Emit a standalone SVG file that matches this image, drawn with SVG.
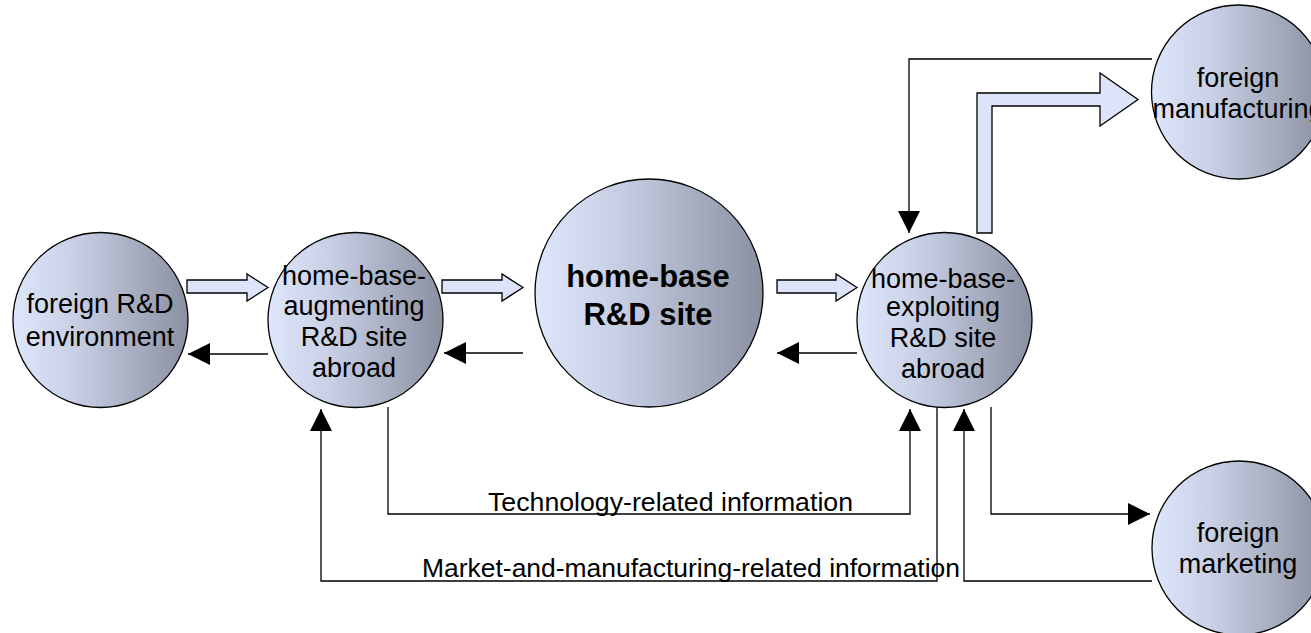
<svg xmlns="http://www.w3.org/2000/svg" width="1311" height="633" viewBox="0 0 1311 633">
<style>
.node{stroke:#000;stroke-width:1.3;fill:url(#g)}
.t{font-family:"Liberation Sans",Arial,Helvetica,sans-serif;font-size:27px;fill:#000;text-anchor:middle}
.b{font-weight:bold;font-size:31px}
.lbl{font-family:"Liberation Sans",Arial,Helvetica,sans-serif;font-size:25px;fill:#000}
.c{fill:none;stroke:#000;stroke-width:1.3;marker-end:url(#ah)}
.blk{fill:#dde4fa;stroke:#000;stroke-width:1.3;stroke-linejoin:miter}
</style>
<defs>
<linearGradient id="g" x1="0" y1="0" x2="1" y2="0">
<stop offset="0" stop-color="#dee6fc"/>
<stop offset="0.35" stop-color="#c9d0e6"/>
<stop offset="1" stop-color="#8a90a0"/>
</linearGradient>
<marker id="ah" markerUnits="userSpaceOnUse" markerWidth="22" markerHeight="22" viewBox="0 0 21 21" refX="21" refY="10.5" orient="auto">
<path d="M0,0 L21,10.5 L0,21 z" fill="#000"/>
</marker>
</defs>
<rect width="1311" height="633" fill="#fff"/>
<g id="n1">
<circle class="node" cx="100.5" cy="320" r="87.5"/>
<text class="t" x="100" y="313">foreign R&amp;D</text>
<text class="t" x="100" y="346">environment</text>
</g>
<g id="n2">
<circle class="node" cx="355.5" cy="320" r="87.5"/>
<text class="t" x="354" y="285">home-base-</text>
<text class="t" x="354" y="315">augmenting</text>
<text class="t" x="354" y="346">R&amp;D site</text>
<text class="t" x="354" y="377">abroad</text>
</g>
<g id="n3">
<circle class="node" cx="649" cy="293" r="114"/>
<text class="t b" x="648" y="287">home-base</text>
<text class="t b" x="648" y="325">R&amp;D site</text>
</g>
<g id="n4">
<circle class="node" cx="944.5" cy="320" r="87.5"/>
<text class="t" x="943" y="288">home-base-</text>
<text class="t" x="943" y="316">exploiting</text>
<text class="t" x="943" y="347">R&amp;D site</text>
<text class="t" x="943" y="378">abroad</text>
</g>
<g id="n5">
<circle class="node" cx="1238.5" cy="92" r="87"/>
<text class="t" x="1238" y="87">foreign</text>
<text class="t" x="1238" y="118">manufacturing</text>
</g>
<g id="n6">
<circle class="node" cx="1239" cy="548" r="87"/>
<text class="t" x="1238" y="542">foreign</text>
<text class="t" x="1238" y="573">marketing</text>
</g>
<g id="connectors">
<polygon class="blk" points="187,280 247,280 247,274 268,287.5 247,301 247,293 187,293"/>
<polygon class="blk" points="442,280 502,280 502,274 523,287.5 502,301 502,293 442,293"/>
<polygon class="blk" points="777,280 836,280 836,274 857,287.5 836,301 836,293 777,293"/>
<polygon class="blk" points="977,233 977,93 1100,93 1100,73 1138,99.5 1100,126 1100,106 992,106 992,233"/>
<path class="c" d="M268,354 H188"/>
<path class="c" d="M523,353 H444"/>
<path class="c" d="M857,353 H777"/>
<path class="c" d="M1152,59 H909 V233"/>
<path class="c" d="M388,407 V514 H910 V409"/>
<path class="c" d="M937,407 V581 H321 V409"/>
<path class="c" d="M1152,581 H964 V409"/>
<path class="c" d="M991,407 V514 H1150"/>
<text class="lbl" x="488" y="511" textLength="365" lengthAdjust="spacingAndGlyphs">Technology-related information</text>
<text class="lbl" x="422" y="577" textLength="538" lengthAdjust="spacingAndGlyphs">Market-and-manufacturing-related information</text>
</g>
</svg>
